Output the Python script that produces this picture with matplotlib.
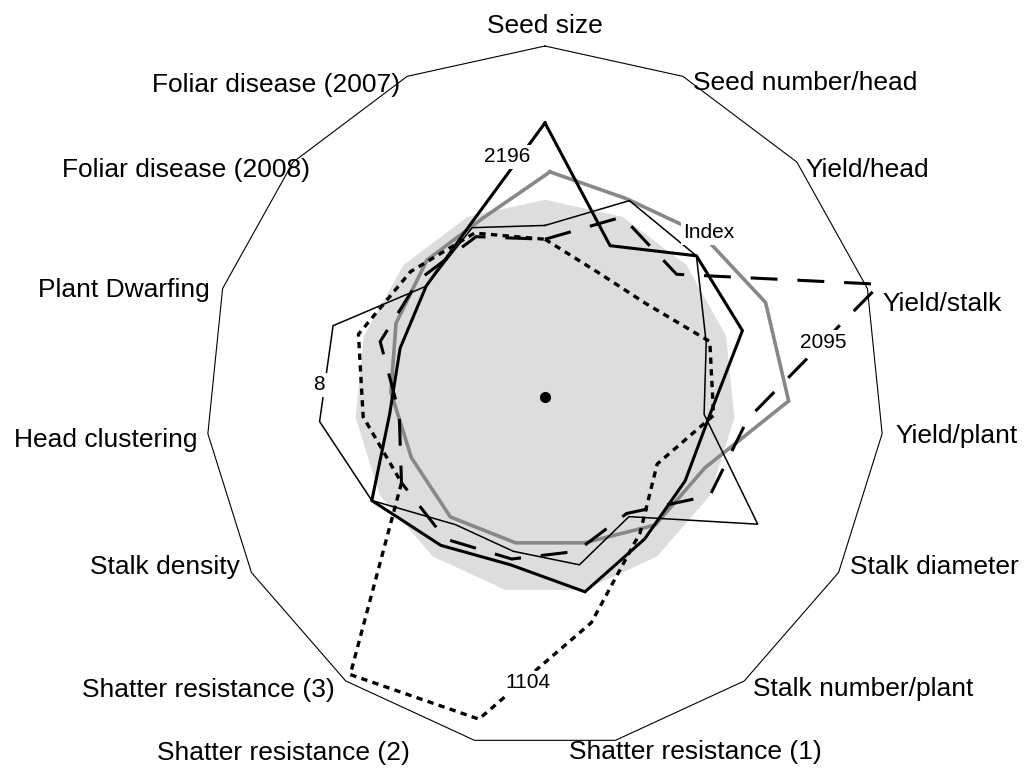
import numpy as np
import matplotlib
matplotlib.use("Agg")
import matplotlib.pyplot as plt

categories = ["Seed size", "Seed number/head", "Yield/head", "Yield/stalk",
              "Yield/plant", "Stalk diameter", "Stalk number/plant",
              "Shatter resistance (1)", "Shatter resistance (2)",
              "Shatter resistance (3)", "Stalk density", "Head clustering",
              "Plant Dwarfing", "Foliar disease (2008)", "Foliar disease (2007)"]

check_area = [100, 100, 100, 100, 100, 100, 100, 100, 100, 100, 100, 100, 100, 100, 100]
index_line = [103, 98, 107, 119, 126, 94, 94, 87, 87, 89, 84, 84, 85, 87, 87]
line_2196 = [139, 84, 107, 109, 87, 85, 89, 101, 87, 93, 105, 82, 80, 84, 96]
line_2095 = [80, 100, 93, 185, 107, 100, 73, 80, 84, 89, 87, 77, 91, 89, 89]
line_1104 = [80, 69, 71, 91, 89, 68, 85, 117, 167, 174, 87, 96, 103, 95, 91]
line_8 = [87, 109, 107, 89, 84, 129, 75, 87, 80, 80, 105, 119, 117, 84, 94]
RMAX = 178

plt.rcParams['font.family'] = ['Liberation Sans', 'DejaVu Sans']

W, H = 1025, 780
CX, CY, SX, SY = 545, 397, 339, 351

fig = plt.figure(figsize=(W / 100, H / 100), dpi=100)
ax = fig.add_axes([0, 0, 1, 1])
ax.set_xlim(-CX / SX, (W - CX) / SX)
ax.set_ylim(-(H - CY) / SY, CY / SY)
ax.axis('off')

n = len(categories)
theta = np.deg2rad(360.0 / n * np.arange(n))


def xy(vals, dx=0.0, dy=0.0):
    r = np.asarray(vals, float) / RMAX
    x = r * np.sin(theta) + dx
    y = r * np.cos(theta) + dy
    return np.append(x, x[0]), np.append(y, y[0])


def px(xp, yp):
    return (xp - CX) / SX, (CY - yp) / SY


# outer frame
ox, oy = xy([RMAX] * n)
ax.plot(ox, oy, color='black', lw=0.8, zorder=1)

# shaded check area
fx, fy = xy(check_area)
ax.fill(fx, fy, color='#dddddd', lw=0, zorder=2)

# gray index line (drawn slightly offset as in the original)
gx, gy = xy(index_line, 5 / SX, 22 / SY)
ax.plot(gx, gy, color='#888888', lw=2.6, zorder=4, solid_joinstyle='miter')

x, y = xy(line_2196)
ax.plot(x, y, color='black', lw=2.2, zorder=5, solid_joinstyle='miter')
x, y = xy(line_2095)
ax.plot(x, y, color='black', lw=2.2, zorder=5, dashes=(8.8, 6.5))
x, y = xy(line_1104)
ax.plot(x, y, color='black', lw=2.4, zorder=5, dashes=(1.9, 1.6))
x, y = xy(line_8)
ax.plot(x, y, color='black', lw=1.1, zorder=5, solid_joinstyle='miter')

ax.plot([0], [0], 'o', color='black', ms=7, zorder=6)

# category labels
label_pos = [(545, 26, 'center'), (693, 83, 'left'), (805, 170, 'left'),
             (882, 304, 'left'), (895, 436, 'left'), (850, 567, 'left'),
             (753, 689, 'left'), (695, 752, 'center'), (283, 753, 'center'),
             (335, 690, 'right'), (240, 567, 'right'), (198, 440, 'right'),
             (210, 290, 'right'), (310, 170, 'right'), (400, 85, 'right')]
for name, (xp, yp, ha) in zip(categories, label_pos):
    ax.text(*px(xp, yp), name, ha=ha, va='center', fontsize=19, zorder=7)

# series labels
series_labels = [("2196", 507, 157), ("Index", 709, 233), ("2095", 823, 342),
                 ("1104", 528, 683), ("8", 319, 385)]
for txt, xp, yp in series_labels:
    ax.text(*px(xp, yp), txt, ha='center', va='center', fontsize=15, zorder=8,
            bbox=dict(facecolor='white', edgecolor='none', pad=1.5))

fig.savefig("out.png", dpi=100)
